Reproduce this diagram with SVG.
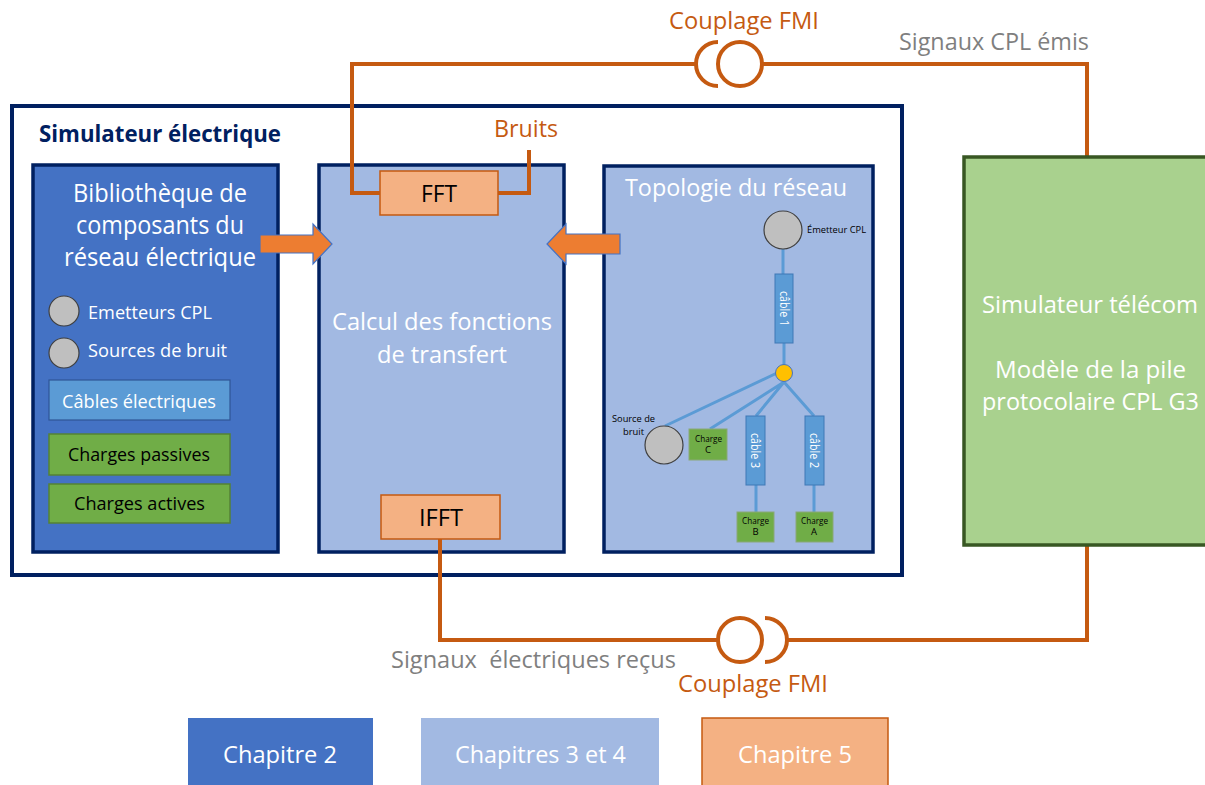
<svg xmlns="http://www.w3.org/2000/svg" width="1205" height="785" viewBox="0 0 1205 785">
<style>
text{font-family:"Open Sans","Noto Sans",sans-serif;white-space:pre}
.w{fill:#fff}.k{fill:#000}.g{fill:#7f7f7f}.o{fill:#c55a11}
.s24{font-size:25px}.s22{font-size:24px}.s18{font-size:18.500px}.s9{font-size:9.500px}.s11{font-size:12.500px}
.panel{stroke:#002060;stroke-width:3.5}
.conn{fill:none;stroke:#c55a11;stroke-width:4}
.wire{fill:none;stroke:#5b9bd5;stroke-width:3}
.cable{fill:#5b9bd5;stroke:#3f78b5;stroke-width:1}
.green{fill:#70ad47;stroke:#548235;stroke-width:1.5}
.sgreen{fill:#70ad47;stroke:#8aa878;stroke-width:1}
.grey{fill:#bfbfbf;stroke:#404040;stroke-width:1.2}
.arrow{fill:#ed7d31;stroke:#4472c4;stroke-width:1.2}
.fft{fill:#f4b183;stroke:#c55a11;stroke-width:1.5}
</style>
<rect width="1205" height="785" fill="#fff"/>
<g id="simulateur-electrique">
<rect x="12" y="106" width="890" height="469" fill="#fff" stroke="#002060" stroke-width="4"/>
<text x="39" y="142" font-weight="700" font-size="23" fill="#002060" textLength="242" lengthAdjust="spacingAndGlyphs">Simulateur électrique</text>
</g>
<g id="bibliotheque">
<rect class="panel" x="33" y="165" width="245" height="387" fill="#4472c4"/>
<text class="w s24" x="73" y="202" textLength="174" lengthAdjust="spacingAndGlyphs">Bibliothèque de</text>
<text class="w s24" x="76" y="234" textLength="168" lengthAdjust="spacingAndGlyphs">composants du</text>
<text class="w s24" x="64" y="266" textLength="192" lengthAdjust="spacingAndGlyphs">réseau électrique</text>
<circle class="grey" cx="64" cy="311" r="15"/>
<text class="w s18" x="88" y="319" textLength="124" lengthAdjust="spacingAndGlyphs">Emetteurs CPL</text>
<circle class="grey" cx="64" cy="353" r="15"/>
<text class="w s18" x="88" y="357" textLength="139" lengthAdjust="spacingAndGlyphs">Sources de bruit</text>
<rect x="49" y="380" width="181" height="40" fill="#5b9bd5" stroke="#2f5597" stroke-width="1.2"/>
<text class="w s18" x="62" y="408" textLength="154" lengthAdjust="spacingAndGlyphs">Câbles électriques</text>
<rect class="green" x="49" y="434" width="181" height="41"/>
<text class="k s18" x="68" y="461" textLength="142" lengthAdjust="spacingAndGlyphs">Charges passives</text>
<rect class="green" x="49" y="484" width="181" height="39"/>
<text class="k s18" x="74" y="510" textLength="131" lengthAdjust="spacingAndGlyphs">Charges actives</text>
</g>
<g id="calcul">
<rect class="panel" x="319" y="165" width="245" height="387" fill="#a2b9e2"/>
<text class="w s22" x="332" y="330" textLength="220" lengthAdjust="spacingAndGlyphs">Calcul des fonctions</text>
<text class="w s22" x="377" y="363" textLength="130" lengthAdjust="spacingAndGlyphs">de transfert</text>
</g>
<g id="topologie">
<rect class="panel" x="604" y="166" width="269" height="386" fill="#a2b9e2"/>
<text class="w s22" x="625" y="196" textLength="222" lengthAdjust="spacingAndGlyphs">Topologie du réseau</text>
<path class="wire" d="M783 249V274M784 343V365M777 373L665 426M784 382L710 429M784 382L756 416M784 382L814 416M756 485V512M814 485V512"/>
<circle class="grey" cx="783" cy="230" r="19"/>
<text class="k s9" x="807" y="233" textLength="59" lengthAdjust="spacingAndGlyphs">Émetteur CPL</text>
<rect class="cable" x="775" y="274" width="18" height="69"/>
<text class="w s11" transform="translate(780,291) rotate(90)" textLength="35" lengthAdjust="spacingAndGlyphs">câble 1</text>
<circle cx="784" cy="373" r="8.500" fill="#ffc000" stroke="#4472c4" stroke-width="1"/>
<circle class="grey" cx="664" cy="445" r="19"/>
<text class="k s9" x="612" y="422" textLength="43" lengthAdjust="spacingAndGlyphs">Source de</text>
<text class="k s9" x="623" y="435" textLength="21" lengthAdjust="spacingAndGlyphs">bruit</text>
<rect class="sgreen" x="689" y="429" width="38" height="31"/>
<text class="k s9" x="695" y="442" textLength="27" lengthAdjust="spacingAndGlyphs">Charge</text>
<text class="k s9" x="708" y="453" text-anchor="middle">C</text>
<rect class="cable" x="746" y="416" width="19" height="69"/>
<text class="w s11" transform="translate(751,433) rotate(90)" textLength="35" lengthAdjust="spacingAndGlyphs">câble 3</text>
<rect class="cable" x="805" y="416" width="19" height="69"/>
<text class="w s11" transform="translate(810,433) rotate(90)" textLength="35" lengthAdjust="spacingAndGlyphs">câble 2</text>
<rect class="sgreen" x="737" y="512" width="37" height="30"/>
<text class="k s9" x="742" y="524" textLength="27" lengthAdjust="spacingAndGlyphs">Charge</text>
<text class="k s9" x="755.500" y="535" text-anchor="middle">B</text>
<rect class="sgreen" x="796" y="512" width="37" height="30"/>
<text class="k s9" x="801" y="524" textLength="27" lengthAdjust="spacingAndGlyphs">Charge</text>
<text class="k s9" x="814" y="535" text-anchor="middle">A</text>
</g>
<g id="connectors">
<path class="conn" d="M380 193H352V64H696"/>
<path class="conn" d="M718 42A22 22 0 0 0 718 86"/>
<circle class="conn" cx="740" cy="64" r="22"/>
<path class="conn" d="M762 64H1087V157"/>
<path class="conn" d="M498 193H529V150"/>
<path class="conn" d="M440 539V640H718"/>
<circle class="conn" cx="740" cy="640" r="22"/>
<path class="conn" d="M765 618A22 22 0 0 1 765 662"/>
<path class="conn" d="M787 640H1087V545"/>
<path class="arrow" d="M260 235H313V224L332 244L313 264V253H260Z"/>
<path class="arrow" d="M620 234H566V224L547 244L566 264V254H620Z"/>
</g>
<g id="fft">
<rect class="fft" x="380" y="171" width="118" height="44"/>
<text class="k s22" x="421" y="202" textLength="36" lengthAdjust="spacingAndGlyphs">FFT</text>
</g>
<g id="ifft">
<rect class="fft" x="381" y="495" width="119" height="44"/>
<text class="k s22" x="419" y="526" textLength="44" lengthAdjust="spacingAndGlyphs">IFFT</text>
</g>
<g id="simulateur-telecom">
<rect x="964" y="157" width="250" height="388" fill="#a9d18e" stroke="#385723" stroke-width="3.5"/>
<text class="w s22" x="982" y="313" textLength="216" lengthAdjust="spacingAndGlyphs">Simulateur télécom</text>
<text class="w s22" x="995" y="378" textLength="191" lengthAdjust="spacingAndGlyphs">Modèle de la pile</text>
<text class="w s22" x="982" y="410" textLength="217" lengthAdjust="spacingAndGlyphs">protocolaire CPL G3</text>
</g>
<g id="labels">
<text class="o s22" x="669" y="29" textLength="150" lengthAdjust="spacingAndGlyphs">Couplage FMI</text>
<text class="g s22" x="899" y="50" textLength="190" lengthAdjust="spacingAndGlyphs">Signaux CPL émis</text>
<text class="o s22" x="494" y="137" textLength="64" lengthAdjust="spacingAndGlyphs">Bruits</text>
<text class="g s22" x="391" y="668" textLength="285" lengthAdjust="spacingAndGlyphs">Signaux  électriques reçus</text>
<text class="o s22" x="678" y="692" textLength="150" lengthAdjust="spacingAndGlyphs">Couplage FMI</text>
</g>
<g id="legende-ch2">
<rect x="188" y="718" width="185" height="67" fill="#4472c4"/>
<text class="w s22" x="223" y="763" textLength="114" lengthAdjust="spacingAndGlyphs">Chapitre 2</text>
</g>
<g id="legende-ch34">
<rect x="421" y="718" width="238" height="67" fill="#a2b9e2"/>
<text class="w s22" x="455" y="763" textLength="171" lengthAdjust="spacingAndGlyphs">Chapitres 3 et 4</text>
</g>
<g id="legende-ch5">
<rect x="702" y="718" width="186" height="68" fill="#f4b183" stroke="#c55a11" stroke-width="1.5"/>
<text class="w s22" x="738" y="763" textLength="114" lengthAdjust="spacingAndGlyphs">Chapitre 5</text>
</g>
</svg>
